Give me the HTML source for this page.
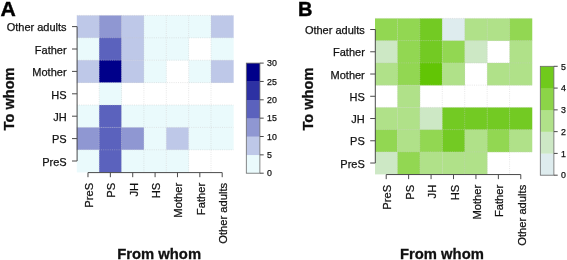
<!DOCTYPE html>
<html><head><meta charset="utf-8"><style>
html,body{margin:0;padding:0;background:#fff;}
body{width:567px;height:260px;overflow:hidden;}
svg{display:block;will-change:transform;}
text{font-family:"Liberation Sans",sans-serif;}
.lab{font-size:11px;fill:#111;stroke:#111;stroke-width:0.25px;}
.labx{font-size:11.2px;fill:#111;stroke:#111;stroke-width:0.25px;}
.cbl{font-size:8.8px;fill:#111;stroke:#111;stroke-width:0.25px;}
.big{font-size:20px;font-weight:bold;fill:#000;stroke:#000;stroke-width:0.4px;}
.ttl{font-size:14.6px;font-weight:bold;fill:#111;stroke:#111;stroke-width:0.3px;}
.ttl2{font-size:14.8px;font-weight:bold;fill:#111;stroke:#111;stroke-width:0.3px;}
</style></head><body>
<svg width="567" height="260" viewBox="0 0 567 260">
<rect x="76.80" y="15.40" width="22.62" height="22.65" fill="#bec8e8"/>
<rect x="99.17" y="15.40" width="22.62" height="22.65" fill="#8f97d2"/>
<rect x="121.54" y="15.40" width="22.62" height="22.65" fill="#bec8e8"/>
<rect x="143.91" y="15.40" width="22.62" height="22.65" fill="#eafafc"/>
<rect x="166.28" y="15.40" width="22.62" height="22.65" fill="#eafafc"/>
<rect x="188.65" y="15.40" width="22.62" height="22.65" fill="#eafafc"/>
<rect x="211.02" y="15.40" width="22.62" height="22.65" fill="#bec8e8"/>
<rect x="76.80" y="37.80" width="22.62" height="22.65" fill="#eafafc"/>
<rect x="99.17" y="37.80" width="22.62" height="22.65" fill="#5b62bd"/>
<rect x="121.54" y="37.80" width="22.62" height="22.65" fill="#bec8e8"/>
<rect x="143.91" y="37.80" width="22.62" height="22.65" fill="#eafafc"/>
<rect x="166.28" y="37.80" width="22.62" height="22.65" fill="#eafafc"/>
<rect x="211.02" y="37.80" width="22.62" height="22.65" fill="#eafafc"/>
<rect x="76.80" y="60.20" width="22.62" height="22.65" fill="#bec8e8"/>
<rect x="99.17" y="60.20" width="22.62" height="22.65" fill="#00008a"/>
<rect x="121.54" y="60.20" width="22.62" height="22.65" fill="#bec8e8"/>
<rect x="143.91" y="60.20" width="22.62" height="22.65" fill="#eafafc"/>
<rect x="188.65" y="60.20" width="22.62" height="22.65" fill="#eafafc"/>
<rect x="211.02" y="60.20" width="22.62" height="22.65" fill="#bec8e8"/>
<rect x="99.17" y="82.60" width="22.62" height="22.65" fill="#eafafc"/>
<rect x="76.80" y="105.00" width="22.62" height="22.65" fill="#eafafc"/>
<rect x="99.17" y="105.00" width="22.62" height="22.65" fill="#5b62bd"/>
<rect x="121.54" y="105.00" width="22.62" height="22.65" fill="#eafafc"/>
<rect x="143.91" y="105.00" width="22.62" height="22.65" fill="#eafafc"/>
<rect x="166.28" y="105.00" width="22.62" height="22.65" fill="#eafafc"/>
<rect x="188.65" y="105.00" width="22.62" height="22.65" fill="#eafafc"/>
<rect x="211.02" y="105.00" width="22.62" height="22.65" fill="#eafafc"/>
<rect x="76.80" y="127.40" width="22.62" height="22.65" fill="#8f97d2"/>
<rect x="99.17" y="127.40" width="22.62" height="22.65" fill="#5b62bd"/>
<rect x="121.54" y="127.40" width="22.62" height="22.65" fill="#8f97d2"/>
<rect x="143.91" y="127.40" width="22.62" height="22.65" fill="#eafafc"/>
<rect x="166.28" y="127.40" width="22.62" height="22.65" fill="#bec8e8"/>
<rect x="188.65" y="127.40" width="22.62" height="22.65" fill="#eafafc"/>
<rect x="211.02" y="127.40" width="22.62" height="22.65" fill="#eafafc"/>
<rect x="76.80" y="149.80" width="22.62" height="22.65" fill="#eafafc"/>
<rect x="99.17" y="149.80" width="22.62" height="22.65" fill="#5b62bd"/>
<rect x="121.54" y="149.80" width="22.62" height="22.65" fill="#eafafc"/>
<rect x="143.91" y="149.80" width="22.62" height="22.65" fill="#eafafc"/>
<rect x="166.28" y="149.80" width="22.62" height="22.65" fill="#eafafc"/>
<g stroke="#c8c8c8" stroke-opacity="0.55" stroke-width="0.8" stroke-dasharray="1 1.2"><line x1="99.17" y1="15.40" x2="99.17" y2="172.20"/><line x1="121.54" y1="15.40" x2="121.54" y2="172.20"/><line x1="143.91" y1="15.40" x2="143.91" y2="172.20"/><line x1="166.28" y1="15.40" x2="166.28" y2="172.20"/><line x1="188.65" y1="15.40" x2="188.65" y2="172.20"/><line x1="211.02" y1="15.40" x2="211.02" y2="172.20"/><line x1="76.80" y1="15.40" x2="233.39" y2="15.40"/><line x1="76.80" y1="37.80" x2="233.39" y2="37.80"/><line x1="76.80" y1="60.20" x2="233.39" y2="60.20"/><line x1="76.80" y1="82.60" x2="233.39" y2="82.60"/><line x1="76.80" y1="105.00" x2="233.39" y2="105.00"/><line x1="76.80" y1="127.40" x2="233.39" y2="127.40"/><line x1="76.80" y1="149.80" x2="233.39" y2="149.80"/></g>
<line x1="77.10" y1="26.60" x2="77.10" y2="161.00" stroke="#4a4a4a" stroke-width="1"/>
<line x1="72.00" y1="26.60" x2="77.10" y2="26.60" stroke="#4a4a4a" stroke-width="1"/>
<text x="66.60" y="31.30" text-anchor="end" class="lab">Other adults</text>
<line x1="72.00" y1="49.00" x2="77.10" y2="49.00" stroke="#4a4a4a" stroke-width="1"/>
<text x="66.60" y="53.70" text-anchor="end" class="lab">Father</text>
<line x1="72.00" y1="71.40" x2="77.10" y2="71.40" stroke="#4a4a4a" stroke-width="1"/>
<text x="66.60" y="76.10" text-anchor="end" class="lab">Mother</text>
<line x1="72.00" y1="93.80" x2="77.10" y2="93.80" stroke="#4a4a4a" stroke-width="1"/>
<text x="66.60" y="98.50" text-anchor="end" class="lab">HS</text>
<line x1="72.00" y1="116.20" x2="77.10" y2="116.20" stroke="#4a4a4a" stroke-width="1"/>
<text x="66.60" y="120.90" text-anchor="end" class="lab">JH</text>
<line x1="72.00" y1="138.60" x2="77.10" y2="138.60" stroke="#4a4a4a" stroke-width="1"/>
<text x="66.60" y="143.30" text-anchor="end" class="lab">PS</text>
<line x1="72.00" y1="161.00" x2="77.10" y2="161.00" stroke="#4a4a4a" stroke-width="1"/>
<text x="66.60" y="165.70" text-anchor="end" class="lab">PreS</text>
<line x1="87.98" y1="172.60" x2="222.20" y2="172.60" stroke="#4a4a4a" stroke-width="1"/>
<line x1="87.98" y1="172.60" x2="87.98" y2="177.20" stroke="#4a4a4a" stroke-width="1"/>
<text transform="translate(92.98,182.80) rotate(-90)" text-anchor="end" class="labx">PreS</text>
<line x1="110.35" y1="172.60" x2="110.35" y2="177.20" stroke="#4a4a4a" stroke-width="1"/>
<text transform="translate(115.35,182.80) rotate(-90)" text-anchor="end" class="labx">PS</text>
<line x1="132.72" y1="172.60" x2="132.72" y2="177.20" stroke="#4a4a4a" stroke-width="1"/>
<text transform="translate(137.72,182.80) rotate(-90)" text-anchor="end" class="labx">JH</text>
<line x1="155.09" y1="172.60" x2="155.09" y2="177.20" stroke="#4a4a4a" stroke-width="1"/>
<text transform="translate(160.09,182.80) rotate(-90)" text-anchor="end" class="labx">HS</text>
<line x1="177.47" y1="172.60" x2="177.47" y2="177.20" stroke="#4a4a4a" stroke-width="1"/>
<text transform="translate(182.47,182.80) rotate(-90)" text-anchor="end" class="labx">Mother</text>
<line x1="199.84" y1="172.60" x2="199.84" y2="177.20" stroke="#4a4a4a" stroke-width="1"/>
<text transform="translate(204.84,182.80) rotate(-90)" text-anchor="end" class="labx">Father</text>
<line x1="222.20" y1="172.60" x2="222.20" y2="177.20" stroke="#4a4a4a" stroke-width="1"/>
<text transform="translate(227.20,182.80) rotate(-90)" text-anchor="end" class="labx">Other adults</text>
<rect x="246.30" y="154.85" width="13.6" height="18.55" fill="#eafafc"/>
<rect x="246.30" y="136.50" width="13.6" height="18.55" fill="#bec8e8"/>
<rect x="246.30" y="118.15" width="13.6" height="18.55" fill="#8f97d2"/>
<rect x="246.30" y="99.80" width="13.6" height="18.55" fill="#5b62bd"/>
<rect x="246.30" y="81.45" width="13.6" height="18.55" fill="#2d31a3"/>
<rect x="246.30" y="63.10" width="13.6" height="18.55" fill="#00008a"/>
<rect x="246.30" y="63.10" width="13.6" height="110.10" fill="none" stroke="#6a6a6a" stroke-width="0.8"/>
<line x1="259.90" y1="173.20" x2="263.70" y2="173.20" stroke="#4a4a4a" stroke-width="1"/>
<text x="267.10" y="176.40" class="cbl">0</text>
<line x1="259.90" y1="154.85" x2="263.70" y2="154.85" stroke="#4a4a4a" stroke-width="1"/>
<text x="267.10" y="158.05" class="cbl">5</text>
<line x1="259.90" y1="136.50" x2="263.70" y2="136.50" stroke="#4a4a4a" stroke-width="1"/>
<text x="267.10" y="139.70" class="cbl">10</text>
<line x1="259.90" y1="118.15" x2="263.70" y2="118.15" stroke="#4a4a4a" stroke-width="1"/>
<text x="267.10" y="121.35" class="cbl">15</text>
<line x1="259.90" y1="99.80" x2="263.70" y2="99.80" stroke="#4a4a4a" stroke-width="1"/>
<text x="267.10" y="103.00" class="cbl">20</text>
<line x1="259.90" y1="81.45" x2="263.70" y2="81.45" stroke="#4a4a4a" stroke-width="1"/>
<text x="267.10" y="84.65" class="cbl">25</text>
<line x1="259.90" y1="63.10" x2="263.70" y2="63.10" stroke="#4a4a4a" stroke-width="1"/>
<text x="267.10" y="66.30" class="cbl">30</text>
<rect x="375.00" y="18.40" width="22.68" height="22.50" fill="#92d752"/>
<rect x="397.43" y="18.40" width="22.68" height="22.50" fill="#92d752"/>
<rect x="419.86" y="18.40" width="22.68" height="22.50" fill="#73ca23"/>
<rect x="442.29" y="18.40" width="22.68" height="22.50" fill="#deecee"/>
<rect x="464.72" y="18.40" width="22.68" height="22.50" fill="#b0e189"/>
<rect x="487.15" y="18.40" width="22.68" height="22.50" fill="#b0e189"/>
<rect x="509.58" y="18.40" width="22.68" height="22.50" fill="#92d752"/>
<rect x="375.00" y="40.65" width="22.68" height="22.50" fill="#cde8c5"/>
<rect x="397.43" y="40.65" width="22.68" height="22.50" fill="#92d752"/>
<rect x="419.86" y="40.65" width="22.68" height="22.50" fill="#73ca23"/>
<rect x="442.29" y="40.65" width="22.68" height="22.50" fill="#92d752"/>
<rect x="464.72" y="40.65" width="22.68" height="22.50" fill="#cde8c5"/>
<rect x="509.58" y="40.65" width="22.68" height="22.50" fill="#b0e189"/>
<rect x="375.00" y="62.90" width="22.68" height="22.50" fill="#b0e189"/>
<rect x="397.43" y="62.90" width="22.68" height="22.50" fill="#92d752"/>
<rect x="419.86" y="62.90" width="22.68" height="22.50" fill="#62c505"/>
<rect x="442.29" y="62.90" width="22.68" height="22.50" fill="#b0e189"/>
<rect x="487.15" y="62.90" width="22.68" height="22.50" fill="#b0e189"/>
<rect x="509.58" y="62.90" width="22.68" height="22.50" fill="#b0e189"/>
<rect x="397.43" y="85.15" width="22.68" height="22.50" fill="#b0e189"/>
<rect x="375.00" y="107.40" width="22.68" height="22.50" fill="#b0e189"/>
<rect x="397.43" y="107.40" width="22.68" height="22.50" fill="#b0e189"/>
<rect x="419.86" y="107.40" width="22.68" height="22.50" fill="#cde8c5"/>
<rect x="442.29" y="107.40" width="22.68" height="22.50" fill="#73ca23"/>
<rect x="464.72" y="107.40" width="22.68" height="22.50" fill="#73ca23"/>
<rect x="487.15" y="107.40" width="22.68" height="22.50" fill="#73ca23"/>
<rect x="509.58" y="107.40" width="22.68" height="22.50" fill="#73ca23"/>
<rect x="375.00" y="129.65" width="22.68" height="22.50" fill="#92d752"/>
<rect x="397.43" y="129.65" width="22.68" height="22.50" fill="#b0e189"/>
<rect x="419.86" y="129.65" width="22.68" height="22.50" fill="#92d752"/>
<rect x="442.29" y="129.65" width="22.68" height="22.50" fill="#73ca23"/>
<rect x="464.72" y="129.65" width="22.68" height="22.50" fill="#b0e189"/>
<rect x="487.15" y="129.65" width="22.68" height="22.50" fill="#92d752"/>
<rect x="509.58" y="129.65" width="22.68" height="22.50" fill="#b0e189"/>
<rect x="375.00" y="151.90" width="22.68" height="22.50" fill="#cde8c5"/>
<rect x="397.43" y="151.90" width="22.68" height="22.50" fill="#92d752"/>
<rect x="419.86" y="151.90" width="22.68" height="22.50" fill="#b0e189"/>
<rect x="442.29" y="151.90" width="22.68" height="22.50" fill="#b0e189"/>
<rect x="464.72" y="151.90" width="22.68" height="22.50" fill="#b0e189"/>
<g stroke="#c8c8c8" stroke-opacity="0.55" stroke-width="0.8" stroke-dasharray="1 1.2"><line x1="397.43" y1="18.40" x2="397.43" y2="174.15"/><line x1="419.86" y1="18.40" x2="419.86" y2="174.15"/><line x1="442.29" y1="18.40" x2="442.29" y2="174.15"/><line x1="464.72" y1="18.40" x2="464.72" y2="174.15"/><line x1="487.15" y1="18.40" x2="487.15" y2="174.15"/><line x1="509.58" y1="18.40" x2="509.58" y2="174.15"/><line x1="375.00" y1="18.40" x2="532.01" y2="18.40"/><line x1="375.00" y1="40.65" x2="532.01" y2="40.65"/><line x1="375.00" y1="62.90" x2="532.01" y2="62.90"/><line x1="375.00" y1="85.15" x2="532.01" y2="85.15"/><line x1="375.00" y1="107.40" x2="532.01" y2="107.40"/><line x1="375.00" y1="129.65" x2="532.01" y2="129.65"/><line x1="375.00" y1="151.90" x2="532.01" y2="151.90"/></g>
<line x1="375.30" y1="29.52" x2="375.30" y2="163.03" stroke="#4a4a4a" stroke-width="1"/>
<line x1="370.20" y1="29.52" x2="375.30" y2="29.52" stroke="#4a4a4a" stroke-width="1"/>
<text x="364.80" y="34.23" text-anchor="end" class="lab">Other adults</text>
<line x1="370.20" y1="51.77" x2="375.30" y2="51.77" stroke="#4a4a4a" stroke-width="1"/>
<text x="364.80" y="56.48" text-anchor="end" class="lab">Father</text>
<line x1="370.20" y1="74.03" x2="375.30" y2="74.03" stroke="#4a4a4a" stroke-width="1"/>
<text x="364.80" y="78.73" text-anchor="end" class="lab">Mother</text>
<line x1="370.20" y1="96.28" x2="375.30" y2="96.28" stroke="#4a4a4a" stroke-width="1"/>
<text x="364.80" y="100.98" text-anchor="end" class="lab">HS</text>
<line x1="370.20" y1="118.53" x2="375.30" y2="118.53" stroke="#4a4a4a" stroke-width="1"/>
<text x="364.80" y="123.23" text-anchor="end" class="lab">JH</text>
<line x1="370.20" y1="140.78" x2="375.30" y2="140.78" stroke="#4a4a4a" stroke-width="1"/>
<text x="364.80" y="145.47" text-anchor="end" class="lab">PS</text>
<line x1="370.20" y1="163.03" x2="375.30" y2="163.03" stroke="#4a4a4a" stroke-width="1"/>
<text x="364.80" y="167.72" text-anchor="end" class="lab">PreS</text>
<line x1="386.21" y1="174.55" x2="520.79" y2="174.55" stroke="#4a4a4a" stroke-width="1"/>
<line x1="386.21" y1="174.55" x2="386.21" y2="179.15" stroke="#4a4a4a" stroke-width="1"/>
<text transform="translate(391.21,184.75) rotate(-90)" text-anchor="end" class="labx">PreS</text>
<line x1="408.64" y1="174.55" x2="408.64" y2="179.15" stroke="#4a4a4a" stroke-width="1"/>
<text transform="translate(413.64,184.75) rotate(-90)" text-anchor="end" class="labx">PS</text>
<line x1="431.07" y1="174.55" x2="431.07" y2="179.15" stroke="#4a4a4a" stroke-width="1"/>
<text transform="translate(436.07,184.75) rotate(-90)" text-anchor="end" class="labx">JH</text>
<line x1="453.50" y1="174.55" x2="453.50" y2="179.15" stroke="#4a4a4a" stroke-width="1"/>
<text transform="translate(458.50,184.75) rotate(-90)" text-anchor="end" class="labx">HS</text>
<line x1="475.94" y1="174.55" x2="475.94" y2="179.15" stroke="#4a4a4a" stroke-width="1"/>
<text transform="translate(480.94,184.75) rotate(-90)" text-anchor="end" class="labx">Mother</text>
<line x1="498.37" y1="174.55" x2="498.37" y2="179.15" stroke="#4a4a4a" stroke-width="1"/>
<text transform="translate(503.37,184.75) rotate(-90)" text-anchor="end" class="labx">Father</text>
<line x1="520.79" y1="174.55" x2="520.79" y2="179.15" stroke="#4a4a4a" stroke-width="1"/>
<text transform="translate(525.79,184.75) rotate(-90)" text-anchor="end" class="labx">Other adults</text>
<rect x="540.30" y="153.42" width="13.6" height="21.98" fill="#deecee"/>
<rect x="540.30" y="131.64" width="13.6" height="21.98" fill="#cde8c5"/>
<rect x="540.30" y="109.86" width="13.6" height="21.98" fill="#b0e189"/>
<rect x="540.30" y="88.08" width="13.6" height="21.98" fill="#8cd448"/>
<rect x="540.30" y="66.30" width="13.6" height="21.98" fill="#70ca1c"/>
<rect x="540.30" y="66.30" width="13.6" height="108.90" fill="none" stroke="#6a6a6a" stroke-width="0.8"/>
<line x1="553.90" y1="175.20" x2="557.70" y2="175.20" stroke="#4a4a4a" stroke-width="1"/>
<text x="561.10" y="178.40" class="cbl">0</text>
<line x1="553.90" y1="153.42" x2="557.70" y2="153.42" stroke="#4a4a4a" stroke-width="1"/>
<text x="561.10" y="156.62" class="cbl">1</text>
<line x1="553.90" y1="131.64" x2="557.70" y2="131.64" stroke="#4a4a4a" stroke-width="1"/>
<text x="561.10" y="134.84" class="cbl">2</text>
<line x1="553.90" y1="109.86" x2="557.70" y2="109.86" stroke="#4a4a4a" stroke-width="1"/>
<text x="561.10" y="113.06" class="cbl">3</text>
<line x1="553.90" y1="88.08" x2="557.70" y2="88.08" stroke="#4a4a4a" stroke-width="1"/>
<text x="561.10" y="91.28" class="cbl">4</text>
<line x1="553.90" y1="66.30" x2="557.70" y2="66.30" stroke="#4a4a4a" stroke-width="1"/>
<text x="561.10" y="69.50" class="cbl">5</text>
<text transform="translate(0.6,15.6) scale(1.06,1)" class="big">A</text>
<text x="298.0" y="15.8" class="big">B</text>
<text transform="translate(13.8,130.4) rotate(-90)" class="ttl">To whom</text>
<text transform="translate(313.0,130.6) rotate(-90)" class="ttl">To whom</text>
<text x="117.2" y="258.8" class="ttl2">From whom</text>
<text x="400.0" y="258.8" class="ttl2">From whom</text>
</svg>
</body></html>
